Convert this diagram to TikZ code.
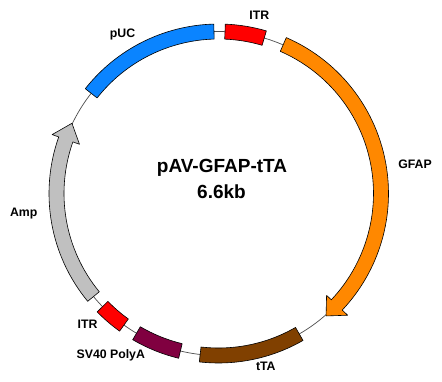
\documentclass[tikz,border=0pt]{standalone}
\usepackage{fontspec}
\setmainfont{Liberation Sans}
\definecolor{pucblue}{RGB}{10,132,255}
\definecolor{itrred}{RGB}{255,0,0}
\definecolor{gfaporange}{RGB}{255,136,0}
\definecolor{ttabrown}{RGB}{128,64,0}
\definecolor{polyamaroon}{RGB}{128,0,64}
\definecolor{ampgray}{RGB}{192,192,192}
\begin{document}
\begin{tikzpicture}[x=1pt, y=1pt, line join=round,
	backbone/.style={draw=black!70, line width=0.7pt},
	feature/.style={draw=black, line width=0.6pt},
	lbl/.style={inner sep=0pt, font=\fontsize{12.3}{14}\selectfont\bfseries},
	title/.style={inner sep=0pt, font=\fontsize{19}{22}\selectfont\bfseries}]
	\useasboundingbox (0,0) rectangle (442,381);
	\path
	(218.5,187.5) coordinate (C)
	;
	\begin{scope}[shift={(C)}]
		% backbone
		\draw[backbone] (0,0) circle (162);
		% plain blocks: colour, start, end
		\foreach \col/\a/\b in {pucblue/91.6/141.8, itrred/73.6/87.7, itrred/224.3/234.3,
			polyamaroon/239.6/256.4, ttabrown/263.5/299.9}{
			\draw[feature, fill=\col] (\a:169.5) arc[start angle=\a, end angle=\b, radius=169.5]
			-- (\b:154.5) arc[start angle=\b, end angle=\a, radius=154.5] -- cycle;
		}
		% GFAP arrow
		\draw[feature, fill=gfaporange] (66.5:170) arc[start angle=66.5, end angle=-43.3, radius=170]
		-- (-43.3:177.5) -- (-48.7:163) -- (-43.3:148.5)
		-- (-43.3:155) arc[start angle=-43.3, end angle=66.5, radius=155] -- cycle;
		% Amp arrow
		\draw[feature, fill=ampgray] (219.5:169.5) arc[start angle=219.5, end angle=160.5, radius=169.5]
		-- (160.5:176.5) -- (154.4:162.5) -- (160.5:147.5)
		-- (160.5:154.5) arc[start angle=160.5, end angle=219.5, radius=154.5] -- cycle;
	\end{scope}
	% labels
	\node[lbl] (puc) at (122.5,347) {pUC};
	\node[lbl] (itrtop) at (259.3,365.7) {ITR};
	\node[lbl] (gfap) at (415,217) {GFAP};
	\node[lbl] (amp) at (23.7,167.7) {Amp};
	\node[lbl] (itrbot) at (87.5,57) {ITR};
	\node[lbl] (polya) at (110.8,25.2) {SV40 PolyA};
	\node[lbl] (tta) at (265.8,14.3) {tTA};
	\node[title] (name) at (222,213) {pAV-GFAP-tTA};
	\node[title] (size) at (221.5,189.3) {6.6kb};
\end{tikzpicture}
\end{document}
